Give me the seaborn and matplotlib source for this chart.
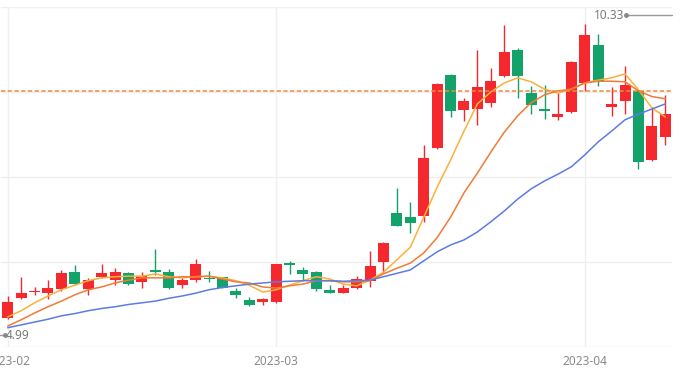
import matplotlib
matplotlib.use("Agg")
import matplotlib.pyplot as plt
from matplotlib.transforms import offset_copy
import seaborn as sns
import pandas as pd
import numpy as np

# ---- data ----
tick_labels = ["2023-02", "2023-03", "2023-04"]
tick_index = [0, 20, 43]

opens = [5.02, 5.36, 5.47, 5.46, 5.52, 5.82, 5.52, 5.73, 5.68, 5.80,
         5.64, 5.86, 5.82, 5.59, 5.69, 5.72, 5.73, 5.49, 5.33, 5.30,
         5.29, 5.99, 5.86, 5.82, 5.51, 5.46, 5.55, 5.67, 6.00, 6.86,
         6.80, 6.81, 8.01, 9.30, 8.68, 8.70, 8.81, 9.29, 9.74, 8.98,
         8.70, 8.56, 8.64, 9.16, 9.83, 8.73, 8.85, 9.02, 7.80, 8.20]
highs = [5.40, 5.73, 5.56, 5.68, 5.86, 5.94, 5.71, 5.96, 5.89, 5.82,
         5.82, 6.23, 5.87, 5.72, 6.05, 5.84, 5.74, 5.54, 5.39, 5.36,
         5.97, 6.01, 5.92, 5.85, 5.59, 5.59, 5.75, 6.20, 6.36, 7.31,
         7.06, 8.06, 9.16, 9.31, 8.89, 9.75, 9.42, 10.18, 9.77, 9.10,
         9.12, 8.98, 9.54, 10.20, 10.02, 9.08, 9.46, 9.04, 8.74, 8.95]
lows = [4.99, 5.34, 5.42, 5.34, 5.48, 5.59, 5.42, 5.71, 5.59, 5.59,
        5.55, 5.77, 5.52, 5.55, 5.65, 5.64, 5.54, 5.36, 5.22, 5.24,
        5.28, 5.78, 5.69, 5.48, 5.45, 5.45, 5.52, 5.56, 5.80, 6.64,
        6.52, 6.71, 7.99, 8.56, 8.48, 8.42, 8.73, 9.27, 8.89, 8.62,
        8.52, 8.51, 8.63, 9.01, 9.11, 8.58, 8.62, 7.64, 7.79, 8.07]
closes = [5.30, 5.46, 5.49, 5.54, 5.81, 5.61, 5.69, 5.80, 5.83, 5.62,
          5.76, 5.82, 5.54, 5.69, 5.96, 5.70, 5.55, 5.41, 5.24, 5.35,
          5.97, 5.95, 5.78, 5.52, 5.46, 5.54, 5.70, 5.93, 6.34, 6.64,
          6.69, 7.83, 9.14, 8.67, 8.85, 9.08, 9.20, 9.71, 9.28, 8.77,
          8.67, 8.61, 9.53, 10.01, 9.18, 8.78, 9.12, 7.77, 8.40, 8.61]

ma5 = [5.03, 5.14, 5.28, 5.40, 5.51, 5.59, 5.67, 5.72, 5.74, 5.75,
       5.75, 5.79, 5.74, 5.72, 5.74, 5.75, 5.72, 5.67, 5.59, 5.47,
       5.51, 5.59, 5.67, 5.74, 5.70, 5.61, 5.58, 5.68, 5.82, 6.04,
       6.26, 6.79, 7.32, 7.80, 8.31, 8.79, 9.00, 9.16, 9.25, 9.18,
       9.05, 8.98, 9.05, 9.16, 9.21, 9.25, 9.32, 9.04, 8.72, 8.56]
ma10 = [4.87, 4.98, 5.10, 5.21, 5.31, 5.42, 5.51, 5.56, 5.63, 5.68,
        5.72, 5.72, 5.72, 5.74, 5.74, 5.75, 5.70, 5.65, 5.63, 5.56,
        5.54, 5.58, 5.61, 5.67, 5.67, 5.65, 5.65, 5.67, 5.79, 5.89,
        5.98, 6.16, 6.43, 6.79, 7.22, 7.57, 7.94, 8.29, 8.58, 8.81,
        8.95, 9.02, 9.05, 9.16, 9.19, 9.19, 9.18, 9.02, 8.92, 8.88]
ma20 = [4.84, 4.89, 4.94, 4.99, 5.05, 5.09, 5.14, 5.18, 5.21, 5.25,
        5.28, 5.31, 5.36, 5.40, 5.45, 5.51, 5.55, 5.58, 5.61, 5.63,
        5.65, 5.66, 5.67, 5.67, 5.67, 5.66, 5.67, 5.68, 5.74, 5.80,
        5.86, 6.02, 6.18, 6.30, 6.39, 6.53, 6.71, 6.90, 7.11, 7.29,
        7.43, 7.55, 7.68, 7.89, 8.12, 8.31, 8.51, 8.61, 8.70, 8.79]

ref_price = 9.02
hi_label = 10.33
lo_label = 4.99
grid_levels = [4.5, 6.0, 7.5, 9.0, 10.5]

# ---- styling ----
sns.set_theme(style="white")
plt.rcParams['font.family'] = ['Noto Sans', 'DejaVu Sans']

UP = "#F5282D"
DOWN = "#13A26A"
C5, C10, C20 = "#F9B13A", "#F27A34", "#5D7BE3"
TXT = "#8a8a8a"

fig = plt.figure(figsize=(6.93, 3.75), dpi=100)
ax = fig.add_axes([1 / 693, 28 / 375, 671 / 693, 340 / 375])

o = np.array(opens); c = np.array(closes)
h = np.array(highs); l = np.array(lows)
x = np.arange(len(o))
cols = np.where(c >= o, UP, DOWN)

# candles
ax.vlines(x, l, h, colors=cols, lw=1.0, zorder=2)
body_bottom = np.minimum(o, c)
body_h = np.maximum(np.abs(c - o), 0.015)
ax.bar(x, body_h, bottom=body_bottom, width=0.82, color=cols, linewidth=0, zorder=2)

# moving averages via seaborn
ma_df = pd.DataFrame({
    "idx": np.concatenate([x, x, x]),
    "value": np.concatenate([ma5, ma10, ma20]),
    "MA": ["MA5"] * len(x) + ["MA10"] * len(x) + ["MA20"] * len(x),
})
sns.lineplot(data=ma_df, x="idx", y="value", hue="MA",
             palette={"MA5": C5, "MA10": C10, "MA20": C20},
             linewidth=1.1, legend=False, ax=ax, zorder=3)

# reference price line
ax.axhline(ref_price, color="#F0883E", lw=1.1, dashes=(2.8, 1.6), zorder=4)

ax.set_xlim(-0.5, len(x) - 0.5)
ax.set_ylim(grid_levels[0], grid_levels[-1])
ax.set_yticks(grid_levels)
ax.set_yticklabels([])
ax.set_xticks(tick_index)
ax.set_xticklabels(tick_labels)
ax.tick_params(axis="x", length=0, pad=6, labelsize=8.5, colors=TXT)
ax.tick_params(axis="y", length=0)
ax.grid(True, color="#efefef", lw=1.0, zorder=0)
ax.set_xlabel(""); ax.set_ylabel("")
for s in ax.spines.values():
    s.set_visible(False)

# high / low marks
t_hi = offset_copy(ax.transData, fig=fig, x=0, y=1.5, units="dots")
hx0 = 46.07
ax.plot([hx0, len(x) - 0.5], [hi_label, hi_label], color="#999999", lw=1.0,
        transform=t_hi, clip_on=False, zorder=5)
ax.plot([hx0], [hi_label], marker="o", ms=2.5, color="#888888",
        transform=t_hi, clip_on=False, zorder=5)
ax.text(hx0 - 0.12, hi_label, f"{hi_label:.2f}", ha="right", va="center",
        fontsize=8.5, color="#7a7a7a", transform=t_hi)

t_lo = offset_copy(ax.transData, fig=fig, x=0, y=-16, units="dots")
lx0 = -0.2
ax.plot([-0.6, lx0], [lo_label, lo_label], color="#999999", lw=1.0,
        transform=t_lo, clip_on=False, zorder=5)
ax.plot([lx0], [lo_label], marker="o", ms=2.5, color="#888888",
        transform=t_lo, clip_on=False, zorder=5)
ax.text(lx0 + 0.05, lo_label, f"{lo_label:.2f}", ha="left", va="center",
        fontsize=8.5, color="#7a7a7a", transform=t_lo)

fig.savefig("out.png", dpi=100)
